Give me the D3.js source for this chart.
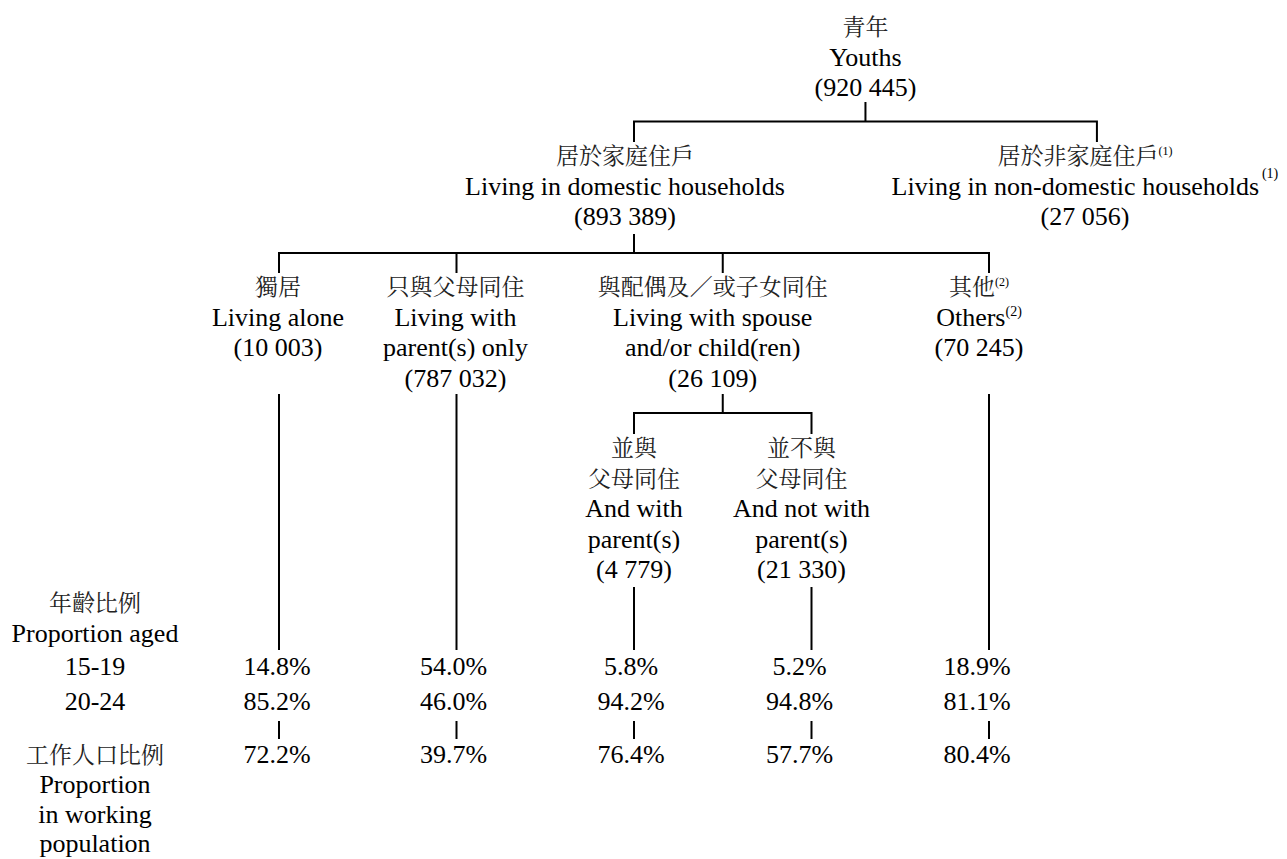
<!DOCTYPE html>
<html>
<head>
<meta charset="utf-8">
<script src="https://cdn.jsdelivr.net/npm/d3@7/dist/d3.min.js"></script>
<style>
  body { margin: 0; background: #fff; }
</style>
</head>
<body>
<svg width="1287" height="859"></svg>
<script>
// tree nodes: youths split into household types
var nodeIds = ["youths", "domestic", "nonDomestic", "alone", "parents", "spouse", "others", "withParents", "notWithParents"];
var nodeParents = [null, "youths", "youths", "domestic", "domestic", "domestic", "domestic", "spouse", "spouse"];
var nodeZh = ["青年", "居於家庭住戶", "居於非家庭住戶", "獨居", "只與父母同住", "與配偶及／或子女同住", "其他", "並與|父母同住", "並不與|父母同住"];
var nodeEn = ["Youths", "Living in domestic households", "Living in non-domestic households", "Living alone",
  "Living with|parent(s) only", "Living with spouse|and/or child(ren)", "Others", "And with|parent(s)", "And not with|parent(s)"];
var nodeCounts = [920445, 893389, 27056, 10003, 787032, 26109, 70245, 4779, 21330];
var nodeNotes = [null, null, "(1)", null, null, null, "(2)", null, null];

// bottom rows, one value per leaf column
var leafIds = ["alone", "parents", "withParents", "notWithParents", "others"];
var ageGroups = ["15-19", "20-24"];
var aged15to19 = [14.8, 54.0, 5.8, 5.2, 18.9];
var aged20to24 = [85.2, 46.0, 94.2, 94.8, 81.1];
var workingShare = [72.2, 39.7, 76.4, 57.7, 80.4];

var ageTitle = ["年齡比例", "Proportion aged"];
var workTitle = ["工作人口比例", "Proportion", "in working", "population"];

// ---- layout ----
var EN_FONT = "Liberation Serif";
var ZH_FONT = "Noto Serif CJK TC";
var svg = d3.select("svg");
var col = d3.scaleLinear().domain([0, 4]).range([279, 989]);
var nodeCol = {youths: 3.304, domestic: 2, nonDomestic: 4.608, alone: 0, parents: 1, spouse: 2.5, others: 4, withParents: 2, notWithParents: 3};
var nodeDx = {youths: 0, domestic: -9, nonDomestic: -12, alone: -1, parents: -1, spouse: -10, others: -10, withParents: 0, notWithParents: -10};
var levels = [
  {top: null, base: 35, bottom: 103, bus: 121.5},
  {top: 141, base: 164, bottom: 235, bus: 253},
  {top: 272, base: 295, bottom: 395, bus: 413},
  {top: 433, base: 456, bottom: 588}
];
var lineStep = 30.5;
var leafEnd = 649;
var rowY = [675, 710, 763];
var tickY = [722, 738];
var pctDx = [-2, -3, -3, -12, -12];
var labelX = 95;

var fmtCount = d3.formatLocale({decimal: ".", thousands: " ", grouping: [3], currency: ["", ""]}).format(",d");
var fmtPct = function(v) { return d3.format(".1f")(v) + "%"; };

// every text gets its font as attribute and inline style
function en(sel) {
  return sel.attr("font-family", EN_FONT).attr("font-size", 26)
    .style("font-family", "'" + EN_FONT + "'").style("font-size", "26px").style("fill", "#000");
}
function zh(sel) {
  return sel.attr("font-family", ZH_FONT).attr("font-size", 23)
    .style("font-family", "'" + ZH_FONT + "'").style("font-size", "23px").style("fill", "#222");
}

var table = nodeIds.map(function(id, i) {
  return {id: id, parent: nodeParents[i], zh: nodeZh[i], en: nodeEn[i], count: nodeCounts[i], note: nodeNotes[i]};
});
var root = d3.stratify().id(function(d) { return d.id; }).parentId(function(d) { return d.parent; })(table);
root.each(function(n) { n.x = col(nodeCol[n.id]); n.lv = levels[n.depth]; });

var lines = svg.append("g").attr("stroke", "#000").attr("stroke-width", 2).attr("fill", "none").attr("stroke-linecap", "square");

// elbow connectors from each parent to its children
root.descendants().filter(function(n) { return n.children; }).forEach(function(p) {
  var xs = p.children.map(function(c) { return c.x; });
  var path = d3.path();
  path.moveTo(p.x, p.lv.bottom); path.lineTo(p.x, p.lv.bus);
  path.moveTo(d3.min(xs), p.lv.bus); path.lineTo(d3.max(xs), p.lv.bus);
  p.children.forEach(function(c) { path.moveTo(c.x, p.lv.bus); path.lineTo(c.x, c.lv.top); });
  lines.append("path").attr("d", path.toString());
});

// leaves drop down to the percentage rows
var leaves = leafIds.map(function(id) { return root.find(function(n) { return n.id === id; }); });
lines.selectAll("path.leaf").data(leaves).enter().append("path").attr("class", "leaf")
  .attr("d", function(n) { return "M" + n.x + "," + n.lv.bottom + "V" + leafEnd; });
lines.selectAll("path.tick").data(leaves).enter().append("path").attr("class", "tick")
  .attr("d", function(n) { return "M" + n.x + "," + tickY[0] + "V" + tickY[1]; });

// node labels
root.descendants().forEach(function(n) {
  var cx = n.x + nodeDx[n.id];
  var y = n.lv.base;
  n.data.zh.split("|").forEach(function(s, i, arr) {
    var t = zh(svg.append("text").attr("text-anchor", "middle").attr("x", cx).attr("y", y));
    t.append("tspan").text(s);
    if (n.data.note && i === arr.length - 1) {
      t.append("tspan").attr("dy", -9).attr("font-family", EN_FONT).style("font-family", "'" + EN_FONT + "'")
        .style("font-size", "12px").style("fill", "#000").text(n.data.note);
    }
    y += lineStep;
  });
  n.data.en.split("|").forEach(function(s, i, arr) {
    var t = en(svg.append("text").attr("text-anchor", "middle").attr("x", cx).attr("y", y));
    t.append("tspan").text(s);
    if (n.data.note && i === arr.length - 1) {
      var gap = n.id === "nonDomestic" ? "\u2009" : "";
      t.append("tspan").attr("dy", n.id === "nonDomestic" ? -17 : -10).style("font-size", "14px").text(gap + n.data.note);
    }
    y += lineStep;
  });
  en(svg.append("text").attr("text-anchor", "middle").attr("x", cx).attr("y", y)).text("(" + fmtCount(n.data.count) + ")");
});

// percentage rows
var rows = [aged15to19, aged20to24, workingShare];
rows.forEach(function(vals, r) {
  en(svg.selectAll("text.row" + r).data(vals).enter().append("text").attr("class", "row" + r)
    .attr("text-anchor", "middle")
    .attr("x", function(v, i) { return leaves[i].x + pctDx[i]; })
    .attr("y", rowY[r]))
    .text(fmtPct);
});

// row titles on the left
function title(kind, y, s) {
  kind(svg.append("text").attr("text-anchor", "middle").attr("x", labelX).attr("y", y)).text(s);
}
title(zh, 611, ageTitle[0]);
title(en, 642, ageTitle[1]);
ageGroups.forEach(function(a, i) { title(en, rowY[i], a); });
title(zh, rowY[2], workTitle[0]);
workTitle.slice(1).forEach(function(s, i) { title(en, 793 + i * 29.5, s); });
</script>
</body>
</html>
